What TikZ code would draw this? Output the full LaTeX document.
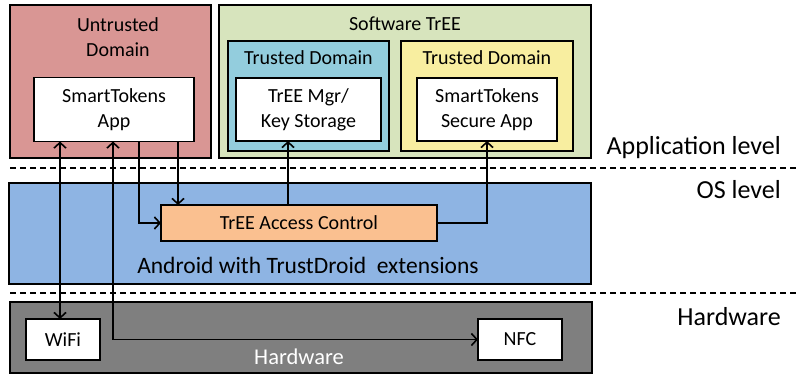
\documentclass[tikz,border=0pt]{standalone}
\usepackage{fontspec}
\setmainfont{Carlito}
\usetikzlibrary{arrows.meta}
\definecolor{untr}{HTML}{D99694}
\definecolor{swtree}{HTML}{D7E4BD}
\definecolor{tdblue}{HTML}{93CDDD}
\definecolor{tdyellow}{HTML}{F8EEA0}
\definecolor{android}{HTML}{8EB4E3}
\definecolor{acorange}{HTML}{FAC090}
\definecolor{hw}{HTML}{7F7F7F}
\begin{document}
\begin{tikzpicture}[x=1pt,y=-1pt,
  box/.style={draw=black, line width=1.8pt, inner sep=0pt, outer sep=0pt},
  txt/.style={font=\fontsize{20}{25}\selectfont, align=center, inner sep=0pt},
  lvl/.style={font=\fontsize{26}{30}\selectfont, anchor=east, inner sep=0pt},
  conn/.style={line width=1.8pt},
  arr/.style={-{Straight Barb[length=5.5pt,width=12pt,line width=1.6pt]}},
  biarr/.style={{Straight Barb[length=5.5pt,width=12pt,line width=1.6pt]}-{Straight Barb[length=5.5pt,width=12pt,line width=1.6pt]}},
  sep/.style={line width=1.3pt, dash pattern=on 6pt off 4pt}
]
\useasboundingbox (0,0) rectangle (796,377);

% Application level containers
\node[box, fill=untr, minimum width=201pt, minimum height=153pt] (untrusted) at (110.5,81.5) {};
\node[txt] (untrustedT) at (118,37.5) {Untrusted\\Domain};
\node[box, fill=white, minimum width=160pt, minimum height=64pt] (app) at (114,109.5) {};
\node[txt] (appT) at (app) {SmartTokens\\App};

\node[box, fill=swtree, minimum width=372pt, minimum height=153pt] (swt) at (405,81.5) {};
\node[txt] (swtT) at (405,24) {Software TrEE};

\node[box, fill=tdblue, minimum width=161pt, minimum height=110pt] (td1) at (308.5,96) {};
\node[txt] (td1T) at (308.5,58) {Trusted Domain};
\node[box, fill=white, minimum width=145pt, minimum height=63pt] (mgr) at (308.5,109.5) {};
\node[txt] (mgrT) at (mgr) {TrEE Mgr/\\Key Storage};

\node[box, fill=tdyellow, minimum width=172pt, minimum height=110pt] (td2) at (487,96) {};
\node[txt] (td2T) at (487,58) {Trusted Domain};
\node[box, fill=white, minimum width=140pt, minimum height=63pt] (sec) at (487,109.5) {};
\node[txt] (secT) at (sec) {SmartTokens\\Secure App};

% OS level
\node[box, fill=android, minimum width=582pt, minimum height=101pt] (andr) at (300,233.5) {};
\node[box, fill=acorange, minimum width=276pt, minimum height=36pt] (ac) at (299,223) {};
\node[txt] (acT) at (ac) {TrEE Access Control};
\node[txt, font=\fontsize{23.5}{27}\selectfont] (andrT) at (308,265) {Android with TrustDroid~ extensions};

% Hardware
\node[box, fill=hw, minimum width=582pt, minimum height=71pt] (hwbox) at (301,337.5) {};
\node[txt, text=white, font=\fontsize{22.5}{26}\selectfont] (hwT) at (299,357) {Hardware};
\node[box, fill=white, minimum width=74pt, minimum height=41pt] (wifi) at (63,339.5) {};
\node[txt] (wifiT) at (wifi) {WiFi};
\node[box, fill=white, minimum width=84pt, minimum height=41pt] (nfc) at (520,339.5) {};
\node[txt] (nfcT) at (nfc) {NFC};

% level separators and labels
\draw[sep] (10,168) -- (796,168);
\draw[sep] (10,293) -- (796,293);
\node[lvl] (l1) at (781,148) {Application level};
\node[lvl] (l2) at (781,190) {OS level};
\node[lvl] (l3) at (781,317) {Hardware};

% connectors
\coordinate (c60) at (60,0);
\coordinate (c113) at (113,0);
\coordinate (c139) at (139,0);
\coordinate (c178) at (178,0);
\coordinate (c288) at (288,0);
\draw[conn, biarr] (app.south -| c60) -- (wifi.north -| c60);
\draw[conn, biarr] (app.south -| c113) |- (nfc.west);
\draw[conn, arr] (app.south -| c139) |- (ac.west);
\draw[conn, arr] (app.south -| c178) -- (ac.north -| c178);
\draw[conn, arr] (ac.north -| c288) -- (mgr.south -| c288);
\draw[conn, arr] (ac.east) -| (sec.south);
\end{tikzpicture}
\end{document}
